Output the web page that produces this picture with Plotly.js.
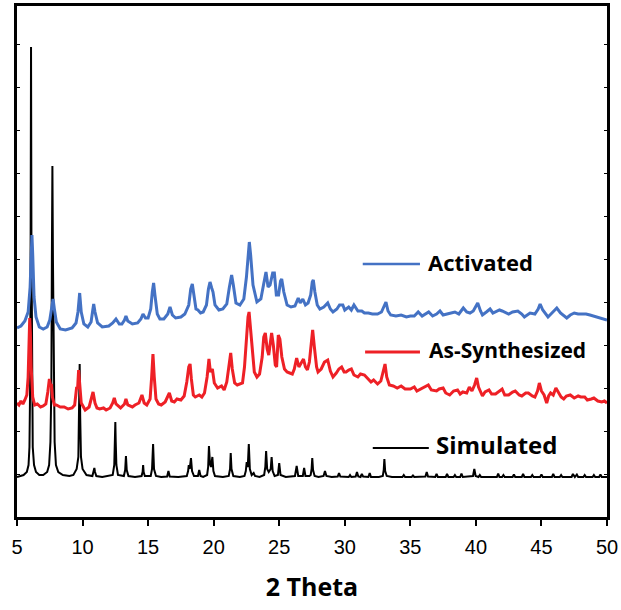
<!DOCTYPE html>
<html>
<head>
<meta charset="utf-8">
<script src="https://cdn.plot.ly/plotly-3.0.1.min.js"></script>
<style>
  html, body { margin: 0; padding: 0; background: #fff; }
  #chart { width: 621px; height: 610px; }
</style>
</head>
<body>
<div id="chart"></div>
<script>
// Powder XRD patterns, stacked (arbitrary intensity units, offset per pattern)

// Simulated pattern
const simTheta = [5.0,5.5,5.75,5.88,5.95,6.0,6.04,6.07,6.10,6.14,6.2,6.3,6.45,6.7,
  7.0,7.3,7.45,7.55,7.62,7.66,7.70,7.74,7.8,7.87,7.97,8.15,8.5,
  9.0,9.3,9.55,9.68,9.74,9.78,9.82,9.88,10.0,10.3,
  10.75,10.85,10.9,10.95,11.05,11.5,12.0,
  12.3,12.42,12.47,12.5,12.53,12.58,12.7,
  13.15,13.25,13.31,13.37,13.5,14.0,
  14.5,14.58,14.62,14.66,14.75,
  15.2,15.3,15.38,15.45,15.6,16.0,
  16.45,16.55,16.65,17.3,
  17.95,18.05,18.1,18.17,18.27,18.35,18.5,
  18.8,18.9,19.0,19.2,
  19.5,19.58,19.64,19.72,19.8,19.9,19.98,20.1,20.7,
  21.15,21.25,21.3,21.36,21.5,22.0,
  22.35,22.45,22.52,22.6,22.68,22.76,22.9,23.05,23.15,23.5,
  23.85,23.94,24.0,24.08,24.2,24.35,24.42,24.5,24.65,
  24.9,25.0,25.1,25.5,
  26.2,26.33,26.45,26.8,26.9,27.0,27.3,
  27.4,27.47,27.52,27.58,27.7,28.0,
  28.38,28.49,28.6,29.0,29.46,29.56,29.66,
  30.3,30.4,30.5,30.83,30.93,31.03,31.2,31.3,31.4,31.8,31.9,32.0,32.6,
  32.9,32.97,33.02,33.08,33.2,33.6,
  34.4,34.5,34.6,35.1,35.2,35.3,
  36.15,36.25,36.35,36.9,37.0,37.1,37.7,37.8,37.9,38.3,38.4,38.5,38.8,38.9,39.0,
  39.78,39.88,39.98,40.2,40.3,40.4,
  41.6,41.7,41.8,42.0,42.1,42.2,42.8,42.9,43.0,43.5,43.6,43.7,44.2,44.3,44.4,
  44.9,45.0,45.1,45.8,45.9,46.0,46.4,46.5,46.6,47.3,47.4,47.55,47.7,47.8,
  48.2,48.3,48.4,48.9,49.0,49.1,49.4,49.5,49.6,50.0];
const simInt = [40,42,45,52,70,130,280,470,280,130,70,52,45,42,
  42,45,52,75,130,260,351,260,130,75,52,45,42,
  41,42,48,60,100,153,100,60,48,42,
  41,45,49,45,41,40,41,
  42,52,75,95,75,52,42,
  41,47,61,47,41,40,
  41,45,52,45,41,
  41,48,73,48,41,40,
  40.5,46,40.5,40,
  41,46,52,48,59,46,41,
  41,47,41,40,
  42,50,71,53,50,60,46,41,40,
  41,48,64,48,41,40,
  41,46,55,50,73,48,42,44,41,40,
  42,50,66,48,45,48,60,46,41,
  42,54,42,40,
  41,51,41,41,49,41,41,
  42,48,59,47,41,40,
  41,46,41,40,40.5,44,40.5,
  40,42,40,40.5,45,40.5,40,43,40.5,40,44,40,40,
  41,47,58,46,41,40,
  40,42,40,40,41.5,40,
  40.5,45,40.5,40,43,40,40,43,40,40,42,40,40,43.5,40,
  41,48,41,40,42,40,
  40,43.5,40,40,42,40,40,42.5,40,40,43,40,40,42,40,
  40,42.5,40,40,43,40,40,42,40,40,43,40,42.5,40,
  40,42,40,40,42,40,40,42.5,40,40];

// As-synthesized pattern
const asTheta = [5.0,5.15,5.3,5.45,5.6,5.75,5.85,5.92,5.97,6.02,6.08,6.2,6.35,6.55,6.8,7.0,7.2,7.35,7.47,7.55,7.62,7.7,7.85,
  8.0,8.3,8.6,8.9,9.2,9.4,9.55,9.62,9.7,9.8,9.9,10.2,10.5,10.7,10.8,10.95,11.1,11.3,11.6,11.8,
  12.1,12.3,12.42,12.55,12.9,13.2,13.31,13.45,13.8,14.0,14.3,14.53,14.7,14.9,15.15,15.27,15.37,15.47,15.6,15.8,
  16.0,16.3,16.5,16.62,16.8,17.0,17.2,17.5,17.75,17.95,18.1,18.2,18.3,18.45,18.6,18.9,19.1,19.3,19.5,19.64,19.75,19.9,
  20.05,20.3,20.6,20.8,21.0,21.15,21.3,21.42,21.6,21.8,22.0,22.2,22.35,22.5,22.62,22.7,22.8,22.95,23.1,23.3,23.5,23.7,
  23.82,23.94,24.08,24.2,24.3,24.42,24.55,24.7,24.8,24.85,24.93,25.05,25.2,25.4,25.6,25.8,26.0,26.15,26.33,26.5,26.7,
  26.85,27.0,27.15,27.3,27.45,27.55,27.68,27.85,27.96,28.2,28.45,28.7,28.9,29.1,29.35,29.55,29.76,29.95,30.1,30.3,30.5,
  30.7,31.0,31.2,31.5,31.8,32.0,32.2,32.5,32.75,32.95,33.07,33.2,33.4,33.7,34.0,34.3,34.6,35.0,35.3,35.5,35.8,36.1,
  36.37,36.6,37.0,37.2,37.5,37.7,38.0,38.3,38.6,38.8,39.0,39.3,39.5,39.7,39.9,40.06,40.2,40.5,40.7,41.0,41.2,41.5,
  41.8,42.0,42.2,42.5,42.8,43.0,43.3,43.5,43.8,44.0,44.3,44.5,44.7,44.84,45.0,45.2,45.4,45.55,45.7,45.9,46.1,46.3,
  46.5,46.7,46.9,47.2,47.5,47.8,48.0,48.3,48.5,48.8,49.0,49.3,49.6,49.8,50.0];
const asInt = [114,112,116,113,117,122,140,180,199,185,150,120,112,113,110,111,113,125,138,132,133,120,112,
  112,110,110,108,109,112,130,128,147,130,114,107,110,120,125,114,109,108,109,107,
  109,114,119,113,109,113,118,112,110,112,114,122,114,112,118,140,163,140,118,113,
  112,115,120,124,116,115,118,117,121,135,150,153,138,122,120,122,120,124,140,158,145,148,
  134,129,131,127,135,150,164,148,134,132,133,134,150,180,200,205,190,160,145,140,143,160,
  180,184,168,162,175,184,172,152,150,165,182,178,160,148,145,144,143,148,159,150,155,
  158,150,147,155,178,187,170,150,145,148,155,157,146,140,144,148,150,145,145,147,148,
  142,140,143,142,138,135,137,133,136,148,153,140,132,131,129,131,128,128,130,126,128,130,
  132,127,126,128,129,124,122,126,127,123,125,124,130,126,132,139,130,121,125,127,123,123,
  126,128,122,122,125,126,122,121,124,124,121,120,126,134,126,122,114,121,124,122,129,124,
  120,118,121,122,119,121,120,120,117,118,119,116,115,116,114];

// Activated pattern
const actTheta = [5.0,5.3,5.6,5.85,6.0,6.08,6.14,6.2,6.3,6.45,6.7,7.0,7.3,7.5,7.65,7.75,7.85,8.0,8.3,8.7,
  9.2,9.5,9.65,9.78,9.9,10.1,10.4,10.65,10.78,10.85,10.95,11.15,11.5,12.0,12.3,12.55,12.8,13.0,13.2,13.31,13.45,
  13.8,14.2,14.45,14.61,14.8,15.0,15.2,15.32,15.42,15.52,15.7,15.9,16.2,16.5,16.67,16.85,17.1,17.5,17.8,18.1,
  18.25,18.37,18.5,18.65,18.8,19.0,19.2,19.45,19.6,19.72,19.85,19.95,20.1,20.4,20.7,21.0,21.2,21.37,21.5,21.7,
  22.0,22.3,22.5,22.62,22.72,22.82,23.0,23.3,23.6,23.8,23.99,24.15,24.3,24.5,24.63,24.78,24.95,25.1,25.19,25.35,
  25.6,25.9,26.2,26.45,26.6,26.8,27.0,27.2,27.4,27.52,27.6,27.72,27.9,28.1,28.4,28.7,28.9,29.1,29.4,29.6,29.85,
  30.0,30.3,30.5,30.7,31.0,31.3,31.5,31.8,32.1,32.5,32.8,33.0,33.14,33.3,33.5,33.9,34.3,34.7,35.0,35.3,35.6,35.9,
  36.2,36.4,36.7,37.0,37.26,37.5,37.8,38.1,38.4,38.7,39.04,39.3,39.55,39.8,40.14,40.35,40.5,40.8,41.08,41.3,41.5,
  41.8,42.0,42.3,42.5,42.8,43.2,43.5,43.7,44.13,44.5,44.75,44.9,45.1,45.5,45.8,46.17,46.45,46.7,46.93,47.2,47.5,
  47.8,48.0,48.4,48.7,49.0,49.3,49.6,50.0];
const actInt = [189,191,196,205,230,265,282,262,220,200,190,188,190,197,210,218,208,195,188,187,
  189,194,205,224,205,193,190,195,207,213,205,194,190,191,194,198,193,193,197,201,196,
  193,194,198,203,199,199,208,225,234,222,203,198,198,203,210,202,199,200,203,212,
  228,233,222,208,207,204,205,212,228,235,229,225,212,207,208,213,230,242,232,214,
  212,218,240,265,275,262,232,215,218,232,245,230,232,244,244,222,222,236,238,225,
  212,210,211,219,214,218,212,214,222,235,237,225,212,208,210,214,208,205,208,212,212,
  207,210,207,212,206,206,204,204,203,203,205,210,215,206,202,201,202,200,201,201,205,201,
  203,205,201,203,206,202,203,204,205,203,209,205,204,206,214,206,202,205,208,204,205,
  207,206,204,203,205,206,203,200,204,203,208,213,207,200,204,209,204,201,199,202,204,
  203,203,203,202,201,200,199,197];

const seriesNames = ['Simulated', 'As-Synthesized', 'Activated'];
const seriesColors = ['#000000', '#EE2026', '#4472C4'];
const xTicks = [5, 10, 15, 20, 25, 30, 35, 40, 45, 50];

const traces = [
  { x: simTheta, y: simInt, name: seriesNames[0], type: 'scatter', mode: 'lines',
    line: { color: seriesColors[0], width: 2 } },
  { x: asTheta, y: asInt, name: seriesNames[1], type: 'scatter', mode: 'lines',
    line: { color: seriesColors[1], width: 3 } },
  { x: actTheta, y: actInt, name: seriesNames[2], type: 'scatter', mode: 'lines',
    line: { color: seriesColors[2], width: 3 } }
];

// hand-drawn key: short line + label next to each pattern
const keyFont = { family: 'Open Sans, sans-serif', color: '#000', weight: 'bold' };
const keys = [
  { x0: 0.586, x1: 0.683, y: 0.495, tx: 0.694, ty: 0.499, w: 2.5, size: 22 },
  { x0: 0.590, x1: 0.683, y: 0.323, tx: 0.695, ty: 0.327, w: 3, size: 21 },
  { x0: 0.603, x1: 0.698, y: 0.135, tx: 0.707, ty: 0.142, w: 2, size: 24 }
];
const keyOrder = [2, 1, 0];
const shapes = keys.map((k, i) => ({
  type: 'line', xref: 'paper', yref: 'paper', x0: k.x0, x1: k.x1, y0: k.y, y1: k.y,
  line: { color: seriesColors[keyOrder[i]], width: k.w }
}));
const annotations = keys.map((k, i) => ({
  xref: 'paper', yref: 'paper', x: k.tx, y: k.ty, xanchor: 'left', yanchor: 'middle',
  text: seriesNames[keyOrder[i]], showarrow: false,
  font: Object.assign({}, keyFont, { size: k.size })
}));

const layout = {
  width: 621, height: 610,
  margin: { l: 17, r: 14, t: 6, b: 93 },
  paper_bgcolor: '#fff', plot_bgcolor: '#fff',
  showlegend: false,
  xaxis: {
    range: [5, 50], tickvals: xTicks, ticktext: xTicks.map(String),
    showline: true, linecolor: '#000', linewidth: 3, mirror: true,
    ticks: 'outside', ticklen: 6, tickwidth: 2, tickcolor: '#000',
    ticklabelstandoff: 4,
    showgrid: false, zeroline: false,
    tickfont: { family: 'Liberation Sans, Arial, sans-serif', size: 20, color: '#000' },
    title: { text: '2 Theta', standoff: 22,
      font: { family: 'Open Sans, sans-serif', size: 25, color: '#000', weight: 'bold' } }
  },
  yaxis: {
    range: [0, 511], showticklabels: false,
    showline: true, linecolor: '#000', linewidth: 3, mirror: 'ticks',
    ticks: 'inside', ticklen: 3, tickwidth: 1, tickcolor: '#000', dtick: 43,
    showgrid: false, zeroline: false
  },
  shapes: shapes,
  annotations: annotations
};

Plotly.newPlot('chart', traces, layout, { staticPlot: true, displayModeBar: false });
</script>
</body>
</html>
